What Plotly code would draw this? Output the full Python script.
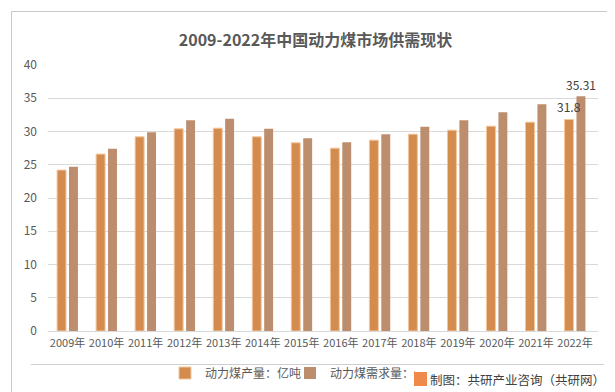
import plotly.graph_objects as go

years = ["2009年", "2010年", "2011年", "2012年", "2013年", "2014年", "2015年",
         "2016年", "2017年", "2018年", "2019年", "2020年", "2021年", "2022年"]
production = [24.2, 26.6, 29.2, 30.4, 30.5, 29.2, 28.3, 27.5, 28.7, 29.6, 30.2, 30.8, 31.4, 31.8]
demand = [24.7, 27.4, 29.9, 31.7, 31.9, 30.4, 29.0, 28.4, 29.6, 30.7, 31.7, 32.9, 34.1, 35.31]
y_ticks = [0, 5, 10, 15, 20, 25, 30, 35, 40]

FONT = "Noto Sans CJK SC"
W, H = 615, 392
ML, MR, MT, MB = 40, 25, 57, 69
PW, PH = W - ML - MR, H - MT - MB


def px(x):
    return (x - ML) / PW


def py(y):
    return (H - MB - y) / PH


fig = go.Figure()
fig.add_trace(go.Bar(
    x=years, y=production, name="动力煤产量：亿吨",
    marker=dict(color="#D38B4E", line=dict(color="#F2C69C", width=1)),
))
fig.add_trace(go.Bar(
    x=years, y=demand, name="动力煤需求量：亿吨",
    marker=dict(color="#BC8E6D", line=dict(width=0)),
))

fig.add_annotation(x=years[-1], y=production[-1], text=f"{production[-1]:g}",
                   showarrow=False, xshift=-6, yshift=13, yanchor="middle",
                   font=dict(family=FONT, size=12, color="#404040"))
fig.add_annotation(x=years[-1], y=demand[-1], text=f"{demand[-1]:g}",
                   showarrow=False, xshift=6, yshift=12, yanchor="middle",
                   font=dict(family=FONT, size=12, color="#404040"))

fig.add_annotation(xref="paper", yref="paper", x=px(420), y=py(371),
                   xanchor="left", yanchor="middle", showarrow=False,
                   text="制图：共研产业咨询（共研网）",
                   font=dict(family=FONT, size=12.5, color="#404040"))

shapes = [
    dict(type="rect", xref="paper", yref="paper", x0=px(3.5), x1=px(607.5), y0=py(3.5), y1=py(385.5),
         line=dict(color="#C8C8C8", width=1)),
    dict(type="line", xref="paper", yref="paper", x0=px(23), x1=px(596), y0=py(356.5), y1=py(356.5),
         line=dict(color="#D0D0D0", width=1)),
    dict(type="rect", xref="paper", yref="paper", x0=px(406), x1=px(419), y0=py(378), y1=py(364),
         line=dict(width=0), fillcolor="#F08A4B"),
]

fig.update_layout(
    width=W, height=H,
    margin=dict(l=ML, r=MR, t=MT, b=MB),
    paper_bgcolor="white", plot_bgcolor="white",
    title=dict(text="<b>2009-2022年中国动力煤市场供需现状</b>", x=0.5, xanchor="center",
               y=1 - 32 / H, yanchor="middle",
               font=dict(family=FONT, size=16, color="#595959")),
    barmode="group", bargap=0.39, bargroupgap=0.25,
    font=dict(family=FONT, color="#595959"),
    xaxis=dict(showgrid=False, showline=True, linecolor="#D9D9D9", ticks="",
               ticklabelstandoff=2,
               tickfont=dict(family=FONT, size=11, color="#595959")),
    yaxis=dict(range=[0, 40], tickvals=y_ticks, showgrid=True, gridcolor="#D9D9D9",
               zeroline=False, showline=False, ticks="", ticklabelstandoff=10,
               tickfont=dict(family=FONT, size=12, color="#595959")),
    legend=dict(orientation="h", x=px(157), xanchor="left", y=py(365), yanchor="middle",
                font=dict(family=FONT, size=12, color="#595959"),
                itemwidth=30, entrywidth=80, traceorder="normal", bgcolor="rgba(0,0,0,0)"),
    shapes=shapes,
)

fig.write_html("out.html")
